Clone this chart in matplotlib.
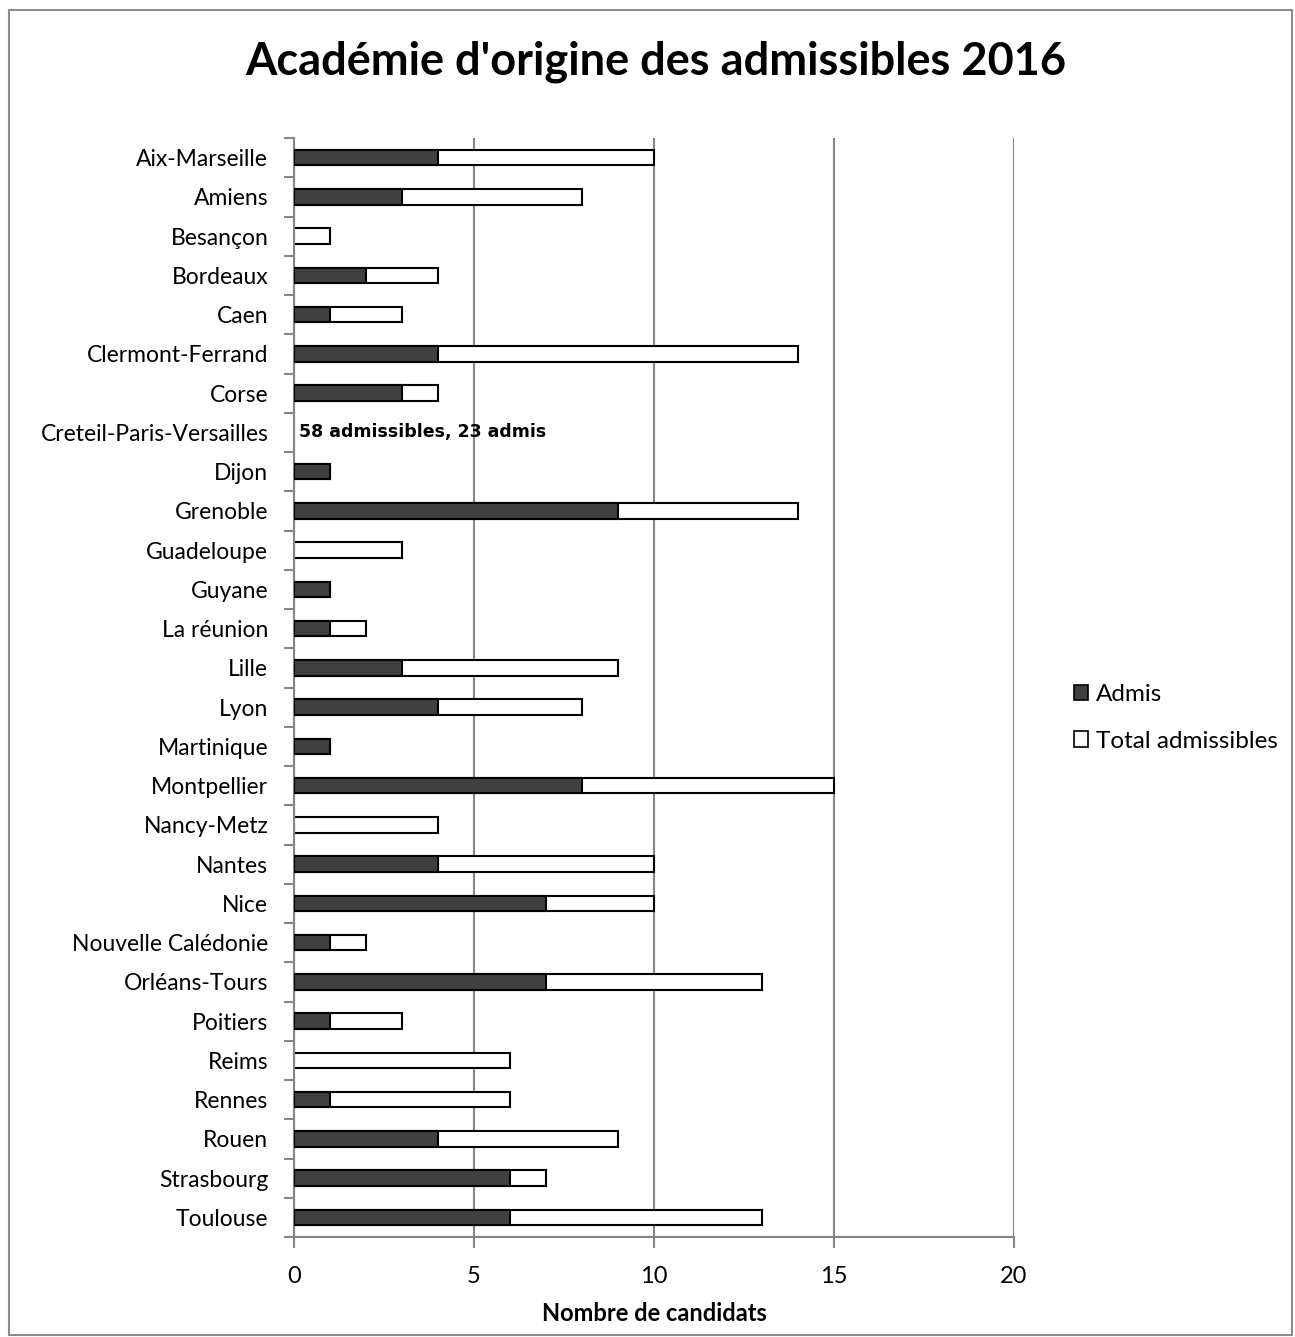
import matplotlib
matplotlib.use("Agg")
import matplotlib.pyplot as plt
from matplotlib.patches import Patch, Rectangle
import numpy as np

categories = ["Aix-Marseille", "Amiens", "Besançon", "Bordeaux", "Caen",
              "Clermont-Ferrand", "Corse", "Creteil-Paris-Versailles", "Dijon",
              "Grenoble", "Guadeloupe", "Guyane", "La réunion", "Lille", "Lyon",
              "Martinique", "Montpellier", "Nancy-Metz", "Nantes", "Nice",
              "Nouvelle Calédonie", "Orléans-Tours", "Poitiers", "Reims",
              "Rennes", "Rouen", "Strasbourg", "Toulouse"]
admis = [4, 3, 0, 2, 1, 4, 3, 0, 1, 9, 0, 1, 1, 3, 4, 1, 8, 0, 4, 7, 1, 7, 1, 0, 1, 4, 6, 6]
total = [10, 8, 1, 4, 3, 14, 4, 0, 1, 14, 3, 1, 2, 9, 8, 1, 15, 4, 10, 10, 2, 13, 3, 6, 6, 9, 7, 13]
annotation = "58 admissibles, 23 admis"
xticks = [0, 5, 10, 15, 20]

plt.rcParams['font.family'] = ['Lato', 'DejaVu Sans']

W, H = 1295, 1337
fig = plt.figure(figsize=(W / 100, H / 100), dpi=100)
fig.patches.append(Rectangle((9 / W, 2 / H), (W - 12) / W, (H - 12) / H,
                             transform=fig.transFigure, fill=False,
                             edgecolor="#8c8c8c", linewidth=1.5))

ax = fig.add_axes([294 / W, 1 - 1237 / H, (1014 - 294) / W, (1237 - 138) / H])
y = np.arange(len(categories))
gray = "#868686"
ax.grid(axis="x", color=gray, linewidth=1.5)
ax.set_axisbelow(True)

lw_total = [1.5 if v > 0 else 0 for v in total]
lw_adm = [1.5 if v > 0 else 0 for v in admis]
ax.barh(y, total, height=0.4, color="white", edgecolor="black", linewidth=lw_total, zorder=2)
ax.barh(y, admis, height=0.4, color="#404040", edgecolor="black", linewidth=lw_adm, zorder=3)

ci = categories.index("Creteil-Paris-Versailles")
ax.text(0.15, ci, annotation, fontsize=12.5, fontweight="bold", family="DejaVu Sans",
        va="center", ha="left", zorder=4)

ax.set_xlim(0, 20)
ax.set_ylim(len(categories) - 0.5, -0.5)
ax.set_xticks(xticks)
ax.set_xticklabels([str(t) for t in xticks], fontsize=17)
ax.set_yticks(y)
ax.set_yticklabels(categories, fontsize=16.5)
ax.set_yticks(np.arange(len(categories) + 1) - 0.5, minor=True)
ax.tick_params(axis="y", which="major", length=0, pad=18.5)
ax.tick_params(axis="y", which="minor", length=7, width=1.5, color=gray)
ax.tick_params(axis="x", which="major", length=8, width=1.5, color=gray, pad=13)
for s in ["top", "right"]:
    ax.spines[s].set_visible(False)
for s in ["left", "bottom"]:
    ax.spines[s].set_color(gray)
    ax.spines[s].set_linewidth(1.5)

ax.set_xlabel("Nombre de candidats", fontsize=17, fontweight="bold", labelpad=11)

fig.text(656 / W, 1 - 62 / H, "Académie d'origine des admissibles 2016",
         fontsize=32.5, fontweight="bold", ha="center", va="center")

handles = [Patch(facecolor="#404040", edgecolor="black", linewidth=1.2),
           Patch(facecolor="white", edgecolor="black", linewidth=1.2)]
fig.legend(handles, ["Admis", "Total admissibles"], loc="center left",
           bbox_to_anchor=(1052 / W, 1 - 718 / H), frameon=False, fontsize=17.5,
           handlelength=0.6, handleheight=0.6, handletextpad=0.3, labelspacing=1.05)

fig.savefig("out.png", dpi=100)
